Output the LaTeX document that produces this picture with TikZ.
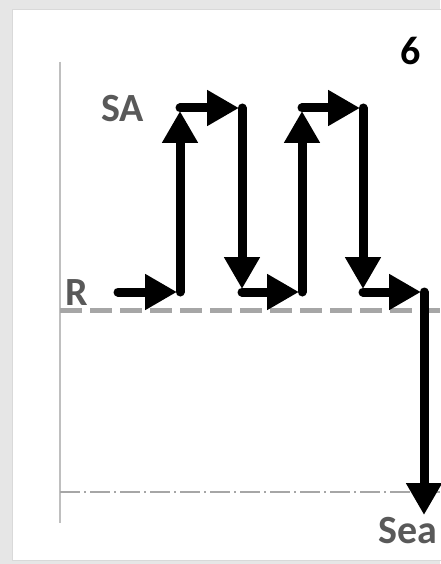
\documentclass[tikz,border=0pt]{standalone}
\usepackage{fontspec}
\setmainfont{Carlito}
\usetikzlibrary{arrows.meta}
\definecolor{bggray}{HTML}{E6E6E6}
\definecolor{txtgray}{HTML}{595959}
\definecolor{linegray}{HTML}{A6A6A6}
\definecolor{axisgray}{HTML}{BFBFBF}
\tikzset{
  flow/.style={line width=9pt, line cap=round, -{Triangle[length=32pt,width=34pt]}, shorten >=3pt},
  lbl/.style={font=\fontsize{40}{42}\selectfont\bfseries, text=txtgray, inner sep=0pt, anchor=base west},
  refline/.style={linegray, line width=5pt, dash pattern=on 22pt off 8pt},
  sealine/.style={linegray, line width=1.5pt, dash pattern=on 20pt off 4pt on 2pt off 4pt},
  axis/.style={axisgray, line width=1.5pt}
}
\begin{document}
\begin{tikzpicture}[x=1pt,y=-1pt]
\useasboundingbox (0,0) rectangle (440,564);
\fill[bggray] (0,0) rectangle (440,564);
\filldraw[fill=white, draw=axisgray!60, line width=1pt] (12,10) rectangle (445,560);
% axes and reference lines
\coordinate (axT) at (60,62);
\coordinate (axB) at (60,523);
\draw[axis] (axT) -- (axB);
\coordinate (rL) at (60,310);
\coordinate (rR) at (440,310);
\draw[refline] (rL) -- (rR);
\coordinate (sL) at (60,492);
\coordinate (sR) at (440,492);
\draw[sealine] (sL) -- (sR);
% labels
\node[lbl] (sa) at (101,122) {SA};
\node[lbl] (r) at (65,305) {R};
\node[lbl] (sea) at (378,543) {Sea};
\node[lbl, text=black] (six) at (400,65) {6};
% corners
\coordinate (p0) at (118,292);
\coordinate (b1) at (180,292);
\coordinate (t1) at (180,108);
\coordinate (t2) at (242,108);
\coordinate (b2) at (242,292);
\coordinate (b3) at (302,292);
\coordinate (t3) at (302,108);
\coordinate (t4) at (363,108);
\coordinate (b4) at (363,292);
\coordinate (b5) at (424,292);
\coordinate (e) at (424,515);
\draw[flow] (p0) -- (b1);
\draw[flow] (b1) -- (t1);
\draw[flow] (t1) -- (t2);
\draw[flow] (t2) -- (b2);
\draw[flow] (b2) -- (b3);
\draw[flow] (b3) -- (t3);
\draw[flow] (t3) -- (t4);
\draw[flow] (t4) -- (b4);
\draw[flow] (b4) -- (b5);
\draw[flow, shorten >=0pt] (b5) -- (e);
\end{tikzpicture}
\end{document}
